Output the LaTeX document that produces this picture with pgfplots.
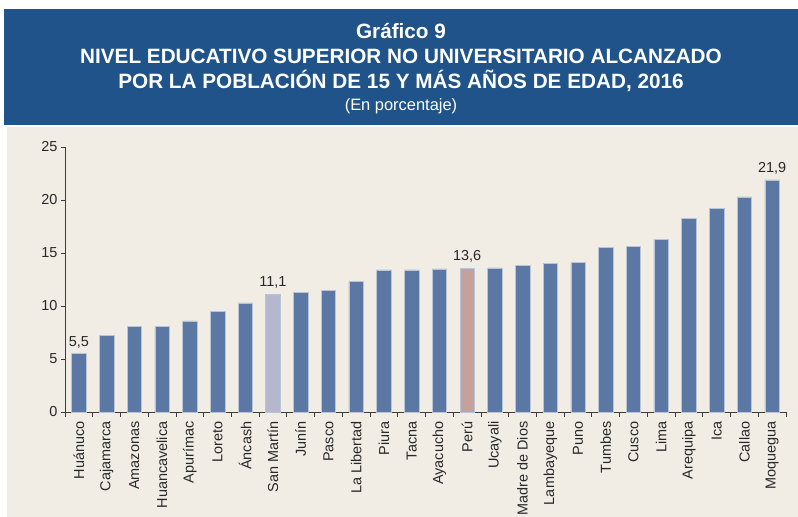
\documentclass[border=0pt]{standalone}
\usepackage{fontspec}
\setmainfont{Liberation Sans}
\usepackage{pgfplots}
\pgfplotsset{compat=1.18}
\usepackage{pgfplotstable}
\definecolor{titleblue}{RGB}{32,83,137}
\definecolor{panel}{RGB}{241,237,229}
\definecolor{barblue}{RGB}{91,120,165}
\definecolor{barsm}{RGB}{181,183,207}
\definecolor{barpe}{RGB}{196,161,157}
\definecolor{bedge}{RGB}{185,196,214}
\definecolor{txt}{RGB}{40,40,40}
\definecolor{axline}{RGB}{60,60,60}
\pgfplotstableread{
x y
0 5.5
1 7.2
2 8.1
3 8.1
4 8.6
5 9.5
6 10.3
8 11.3
9 11.5
10 12.3
11 13.4
12 13.4
13 13.5
15 13.6
16 13.8
17 14.0
18 14.1
19 15.5
20 15.6
21 16.3
22 18.3
23 19.2
24 20.3
25 21.9
}\maindata
\pgfplotstableread{
x y
7 11.1
}\smdata
\pgfplotstableread{
x y
14 13.6
}\pedata
\pgfplotstableread{
x y
0 5.5
7 11.1
14 13.6
25 21.9
}\labdata
\begin{document}
\begin{tikzpicture}
\useasboundingbox (0bp,0bp) rectangle (798bp,-517bp);
\fill[white] (0bp,0bp) rectangle (798bp,-517bp);
\fill[titleblue] (4bp,-9bp) rectangle (798bp,-125bp);
\fill[panel] (7bp,-127bp) rectangle (798bp,-517bp);
\node[white,anchor=base,font=\bfseries\fontsize{20.8}{22}\selectfont] at (401bp,-38.5bp) {Gráfico 9};
\node[white,anchor=base,font=\bfseries\fontsize{20.8}{22}\selectfont] at (401bp,-63.5bp) {NIVEL EDUCATIVO SUPERIOR NO UNIVERSITARIO ALCANZADO};
\node[white,anchor=base,font=\bfseries\fontsize{20.8}{22}\selectfont] at (401bp,-88.5bp) {POR LA POBLACIÓN DE 15 Y MÁS AÑOS DE EDAD, 2016};
\node[white,anchor=base,font=\fontsize{16.5}{19}\selectfont] at (401bp,-110.5bp) {(En porcentaje)};
\begin{axis}[
  at={(65bp,-412bp)}, anchor=south west,
  scale only axis, width=721bp, height=265bp,
  xmin=-0.5, xmax=25.5, ymin=0, ymax=25,
  axis lines*=left,
  axis line style={axline, line width=0.8pt},
  every tick/.style={axline, line width=0.8pt},
  tick align=outside,
  ytick={0,5,...,25},
  major tick length=4bp,
  minor tick length=5bp,
  xtick={0,...,25},
  xticklabels={Huánuco,Cajamarca,Amazonas,Huancavelica,Apurímac,Loreto,Áncash,San Martín,Junín,Pasco,La Libertad,Piura,Tacna,Ayacucho,Perú,Ucayali,Madre de Dios,Lambayeque,Puno,Tumbes,Cusco,Lima,Arequipa,Ica,Callao,Moquegua},
  major x tick style={draw=none},
  minor xtick={-0.5,0.5,...,25.5},
  x tick label style={rotate=90, anchor=east, font=\fontsize{14.5}{16}\selectfont, text=txt, xshift=-2bp},
  y tick label style={font=\fontsize{14.5}{16}\selectfont, text=txt},
  /pgf/number format/assume math mode=true,
  ybar, bar width=14.5bp, bar shift=0pt,
  clip=false,
]
\addplot[fill=barblue, draw=bedge, line width=0.5pt] table[x=x,y=y]{\maindata};
\addplot[fill=barsm, draw=bedge, line width=0.5pt] table[x=x,y=y]{\smdata};
\addplot[fill=barpe, draw=bedge, line width=0.5pt] table[x=x,y=y]{\pedata};
\addplot[draw=none, fill=none, nodes near coords,
  every node near coord/.append style={font=\fontsize{14.5}{16}\selectfont, text=txt, yshift=2bp},
  nodes near coords style={/pgf/number format/.cd, fixed, fixed zerofill, precision=1, use comma, assume math mode=true}]
  table[x=x,y=y]{\labdata};
\end{axis}
\end{tikzpicture}
\end{document}
